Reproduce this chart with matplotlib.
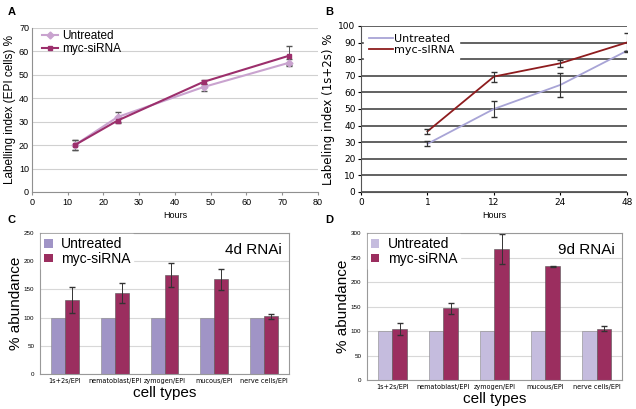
import matplotlib
matplotlib.use('Agg')
import matplotlib.pyplot as plt
import numpy as np

# ---- panel A data ----
hours_a = [12, 24, 48, 72]
untr_a = [20.0, 32.0, 44.8, 55.2]
untr_a_err = [2.0, 2.0, 1.5, 1.5]
myc_a = [20.0, 30.5, 47.0, 58.2]
myc_a_err = [2.2, 1.0, 1.0, 4.0]

# ---- panel B data ----
hours_b_labels = ['0', '1', '12', '24', '48']
untr_b = [29.0, 50.0, 64.5, 85.0]
untr_b_err = [1.5, 5.0, 7.0, 0.0]
myc_b = [36.5, 69.5, 77.5, 90.0]
myc_b_err = [1.5, 3.0, 2.0, 5.5]

# ---- panels C / D data ----
cell_types = ['1s+2s/EPI', 'nematoblast/EPI', 'zymogen/EPI', 'mucous/EPI', 'nerve cells/EPI']
untr_c = [100, 100, 100, 100, 100]
myc_c = [131, 143, 176, 168, 102]
myc_c_err = [23, 18, 21, 19, 4]
untr_d = [100, 100, 100, 100, 100]
myc_d = [104, 146, 267, 232, 105]
myc_d_err = [12, 11, 30, 1, 5]

plt.rcParams['font.family'] = ['Liberation Sans', 'DejaVu Sans']

fig = plt.figure(figsize=(6.36, 4.09), dpi=100)

#------------------------------------------------------------------------------#
# A
ax = fig.add_axes([0.050, 0.5306, 0.450, 0.401])
ax.errorbar(hours_a, untr_a, yerr=untr_a_err, fmt='none', capsize=2,
            ecolor='#555555', elinewidth=0.7)
ax.errorbar(hours_a, myc_a, yerr=myc_a_err, fmt='none', capsize=2,
            ecolor='#555555', elinewidth=0.7)
ax.plot(hours_a, untr_a, color='#c9a3cf', marker='D', ms=3.5, lw=1.5,
        label='Untreated')
ax.plot(hours_a, myc_a, color='#9c2f6c', marker='s', ms=3.5, lw=1.5,
        label='myc-siRNA')
ax.set_xlim(0, 80)
ax.set_ylim(0, 70)
ax.set_xticks(range(0, 81, 10))
ax.set_yticks(range(0, 71, 10))
ax.yaxis.grid(True, color='#d0d0d0', lw=0.8)
ax.set_axisbelow(True)
for s in ['top', 'right']:
    ax.spines[s].set_visible(False)
for s in ['left', 'bottom']:
    ax.spines[s].set_color('#909090')
ax.tick_params(labelsize=6.5, length=2, color='#909090', pad=2)
ax.tick_params(axis='y', length=0)
ax.set_xlabel('Hours', fontsize=6.5, labelpad=3)
ax.set_ylabel('Labelling index (EPI cells) %', fontsize=8.5, labelpad=2)
ax.legend(loc='upper left', fontsize=8.5, frameon=False, handlelength=1.4,
          borderaxespad=0.2, labelspacing=0.1, handletextpad=0.3,
          bbox_to_anchor=(0.01, 1.03))

#------------------------------------------------------------------------------#
# B
bx = fig.add_axes([0.5676, 0.5306, 0.418, 0.406])
xb = np.arange(1, len(hours_b_labels))
bx.plot(xb, untr_b, color='#a8a4d6', lw=1.3, label='Untreated')
bx.plot(xb, myc_b, color='#8e1c1e', lw=1.3, label='myc-sIRNA')
bx.errorbar(xb, untr_b, yerr=untr_b_err, fmt='none', ecolor='#333333',
            elinewidth=0.8, capsize=2)
bx.errorbar(xb, myc_b, yerr=myc_b_err, fmt='none', ecolor='#333333',
            elinewidth=0.8, capsize=2)
bx.set_xlim(0, 4)
bx.set_ylim(0, 100)
bx.set_xticks(range(len(hours_b_labels)))
bx.set_xticklabels(hours_b_labels)
bx.set_yticks(range(0, 101, 10))
bx.yaxis.grid(True, color='#555555', lw=1.3)
bx.set_axisbelow(True)
for s in ['top', 'right']:
    bx.spines[s].set_visible(False)
bx.spines['left'].set_color('#555555')
bx.spines['bottom'].set_color('#555555')
bx.tick_params(labelsize=6.5, length=2, pad=2, labelfontfamily='DejaVu Sans')
bx.set_xlabel('Hours', fontsize=6.5, labelpad=3)
bx.set_ylabel('Labeling index (1s+2s) %', fontsize=8.5, labelpad=2,
              family='DejaVu Sans')
leg = bx.legend(loc='upper left', fontsize=8, frameon=True, fancybox=False,
                edgecolor='white', framealpha=1, handlelength=2.2,
                borderaxespad=0.3, labelspacing=0.1, handletextpad=0.1,
                prop={'family': 'DejaVu Sans', 'size': 8})

#------------------------------------------------------------------------------#
# C and D
def bar_panel(rect, untr, myc, err, ymax, ystep, tag, c_untr, c_myc):
    a = fig.add_axes(rect)
    x = np.arange(len(cell_types))
    w = 0.28
    a.bar(x - w / 2, untr, w, color=c_untr, edgecolor='#888888', lw=0.4)
    a.bar(x + w / 2, myc, w, color=c_myc, edgecolor='#555555', lw=0.4,
          yerr=err, ecolor='#333333', error_kw=dict(elinewidth=0.7, capsize=2))
    a.set_xlim(-0.5, len(cell_types) - 0.5)
    a.set_ylim(0, ymax)
    a.set_yticks(range(0, ymax + 1, ystep))
    a.yaxis.grid(True, color='#d8d8d8', lw=0.8)
    a.set_axisbelow(True)
    for s in a.spines.values():
        s.set_color('#999999')
        s.set_linewidth(0.8)
    a.set_xticks(x)
    a.set_xticklabels(cell_types, family='DejaVu Sans', stretch='condensed')
    a.tick_params(axis='x', labelsize=5.2, length=0, pad=3)
    a.tick_params(axis='y', labelsize=4.5, length=0, pad=4)
    a.set_xlabel('cell types', fontsize=11, labelpad=1)
    a.set_ylabel('% abundance', fontsize=11, labelpad=1)
    a.text(0.97, 0.93, tag, transform=a.transAxes, ha='right', va='top', fontsize=11)
    a.bar([0], [0], color=c_untr, label='Untreated')
    a.bar([0], [0], color=c_myc, label='myc-siRNA')
    a.legend(loc='upper left', fontsize=10, frameon=True, fancybox=False,
             edgecolor='white', framealpha=1, handlelength=0.6, handleheight=0.6,
             borderaxespad=0.1, borderpad=0.2, labelspacing=0.05,
             handletextpad=0.6)
    return a

bar_panel([0.0629, 0.0856, 0.3915, 0.3447], untr_c, myc_c, myc_c_err, 250, 50,
          '4d RNAi', '#a094c6', '#9b2e5f')
bar_panel([0.577, 0.0709, 0.401, 0.3594], untr_d, myc_d, myc_d_err, 300, 50,
          '9d RNAi', '#c5bcde', '#9b2e5f')

#------------------------------------------------------------------------------#
for lbl, (px, py) in zip('ABCD', [(12, 12), (329, 12), (12, 220), (329, 220)]):
    fig.text(px / 636, 1 - py / 409, lbl, fontsize=8, fontweight='bold',
             ha='center', va='center')

fig.savefig('out.png', dpi=100)
